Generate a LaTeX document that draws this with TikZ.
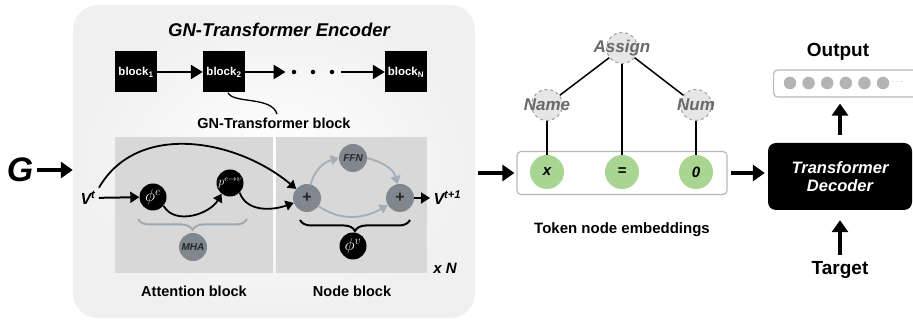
\documentclass[tikz,border=0pt]{standalone}
\usepackage{amsmath}
\usepackage{amssymb}
\usepackage{fontspec}
\setmainfont{Liberation Sans}
\usetikzlibrary{arrows.meta,decorations.pathreplacing}

\definecolor{grisnodo}{RGB}{128,135,143}
\definecolor{grisflecha}{RGB}{163,174,184}
\definecolor{grisllave}{RGB}{160,168,176}
\definecolor{grispanel}{RGB}{216,216,216}
\definecolor{grisarbol}{RGB}{230,230,230}
\definecolor{gristexto}{RGB}{105,105,105}
\definecolor{verdetok}{RGB}{168,213,145}
\definecolor{grispunto}{RGB}{180,180,180}

\newcommand{\tam}[2]{\fontsize{#1}{#2}\selectfont}

\tikzset{
  flecha/.style={line width=3.5pt,-{Triangle[length=12pt,width=16pt]}},
  flechab/.style={line width=2.5pt,-{Triangle[length=12pt,width=14pt]}},
  flechad/.style={line width=2pt,-{Triangle[length=9pt,width=11pt]}},
  curva/.style={line width=1.8pt,-{Triangle[length=8pt,width=10pt]}},
  curvagris/.style={curva,draw=grisflecha},
  encoder/.style={rounded corners=25pt,minimum width=402pt,minimum height=313pt,
    inner color=white,outer color=gray!12},
  bloque/.style={fill=black,minimum width=42pt,minimum height=41pt,inner sep=0pt,
    text=white,font=\tam{11.5}{11.5}\bfseries},
  punto/.style={circle,fill=black,minimum size=4.5pt,inner sep=0pt},
  negro/.style={circle,fill=black,minimum size=27pt,inner sep=0pt,text=white},
  gris/.style={circle,fill=grisnodo,minimum size=28pt,inner sep=0pt,
    font=\tam{10}{10}\bfseries\itshape,text=black!85},
  texto/.style={font=\tam{14.5}{14.5}\bfseries},
  llave/.style={decorate,decoration={brace,mirror,amplitude=11pt},line width=2pt},
  arbol/.style={circle,fill=grisarbol,draw=gray!75,dashed,line width=1pt,minimum size=31pt},
  arboltxt/.style={font=\tam{17}{17}\bfseries\itshape,text=gristexto},
  rama/.style={line width=1.5pt},
  token/.style={circle,fill=verdetok,minimum size=34pt,inner sep=0pt,
    font=\tam{15}{15}\bfseries\itshape},
  caja/.style={draw=gray!55,line width=1.2pt,rounded corners=4pt,fill=white},
  puntogris/.style={circle,fill=grispunto,minimum size=12.5pt,inner sep=0pt}
}

\begin{document}
\begin{tikzpicture}[x=1pt,y=1pt]
\useasboundingbox (0,0) rectangle (913,323);

%Caja del encoder
\node[encoder] (enc) at (274,161.5) {};
\node[font=\tam{18.5}{18.5}\bfseries\itshape] (titulo) at (279,293) {GN-Transformer Encoder};

%Cadena de bloques
\node[bloque] (b1) at (136,251) {block\textsubscript{1}};
\node[bloque] (b2) at (224,251) {block\textsubscript{2}};
\node[bloque] (bn) at (406,251) {block\textsubscript{N}};
\node[punto] (p1) at (294,251) {};
\node[punto] (p2) at (313,251) {};
\node[punto] (p3) at (332,251) {};
\draw[flechab] (b1) -- (b2);
\draw[flechab,shorten >=6pt] (b2) -- (p1);
\draw[flechab,shorten <=7pt] (p3) -- (bn);

%Etiqueta del bloque
\node[texto] (gnb) at (274,200) {GN-Transformer block};
\draw[line width=1.3pt] ([xshift=4pt]b2.south) .. controls (233,219) and (272,227) .. ([xshift=3pt]gnb.north);

%Paneles de atencion y de nodo
\fill[grispanel] (115,50) rectangle (273,186);
\fill[grispanel] (276,50) rectangle (427,186);
\node[texto] (atxt) at (194,32) {Attention block};
\node[texto] (ntxt) at (352,32) {Node block};
\node[font=\tam{15}{15}\bfseries\itshape] (xn) at (445,55) {x N};

%Entrada G
\node[font=\tam{34}{34}\bfseries\itshape] (g) at (20,153) {G};
\draw[flecha] (g.east) -- (g.east -| enc.west);

%Bloque de atencion
\node[font=\tam{16}{16}\bfseries\itshape] (vt) at (88,125) {V\textsuperscript{t}};
\node[negro] (phie) at (153,126) {\tam{17}{17}$\phi^e$};
\node[negro] (pev) at (230,140) {\tam{11.5}{11.5}$p^{e\to v}$};
\node[gris] (mha) at (193,76) {MHA};
\draw[flechad] (vt) -- (phie);
\draw[curva] (phie.-40) to[out=-60,in=-120] (pev.-128);
\draw[llave,draw=grisllave] (138,104) -- (247,104);

%Bloque de nodo
\node[gris,font=\tam{16}{16}\bfseries] (suma1) at (307,125) {+};
\node[gris] (ffn) at (353,165) {FFN};
\node[gris,font=\tam{16}{16}\bfseries] (suma2) at (400,125) {+};
\node[negro] (phiv) at (353,77) {\tam{17}{17}$\phi^v$};
\node[font=\tam{16}{16}\bfseries\itshape,anchor=west] (vt1) at (430,125) {V\textsuperscript{t+1}};
\draw[curvagris] (suma1.75) to[out=75,in=195] (ffn.west);
\draw[curvagris] (ffn.east) to[out=-15,in=105] (suma2.100);
\draw[curvagris] (suma1.-35) to[out=-35,in=-150] (suma2.-150);
\draw[flechad] (suma2) -- (vt1);
\draw[curva] (vt.north east) to[out=60,in=140] (suma1.140);
\draw[curva] (pev.-45) to[out=-70,in=200] (suma1.200);
\draw[llave] (300,103) -- (410,103);

%Arbol y embeddings de tokens
\node[caja,minimum width=210pt,minimum height=43pt] (tokbox) at (622,150) {};
\node[arbol] (assign) at (622,275) {};
\node[arbol] (name) at (547,218) {};
\node[arbol] (num) at (696,218) {};
\node[token] (tx) at (547,151) {x};
\node[token] (teq) at (622,151) {=};
\node[token] (tcero) at (696,151) {0};
\draw[rama] (assign) -- (name);
\draw[rama] (assign) -- (num);
\draw[rama] (assign) -- (teq);
\draw[rama] (name) -- (tx);
\draw[rama] (num) -- (tcero);
\node[arboltxt] at (assign) {Assign};
\node[arboltxt] at (name) {Name};
\node[arboltxt] at (num) {Num};
\node[font=\tam{15}{15}\bfseries] (toktxt) at (622,93) {Token node embeddings};
\draw[flecha,shorten <=3pt,shorten >=2pt] (enc.east |- tokbox.west) -- (tokbox.west);

%Decoder y salida
\node[fill=black,rounded corners=8pt,minimum width=144pt,minimum height=67pt,
  text=white,align=center,font=\tam{16.5}{18}\bfseries\itshape] (dec) at (840,146.5) {Transformer\\Decoder};
\draw[flecha,shorten <=3pt,shorten >=3pt] (tokbox.east) -- (tokbox.east -| dec.west);
\node[caja,minimum width=152pt,minimum height=27pt,anchor=west] (outbox) at (773,239.5) {};
\foreach \i in {0,...,5}
  \node[puntogris] (o\i) at (790+18.6*\i,240) {};
\node[text=grispunto,font=\tam{10}{10}] (etc) at (898,241) {$\cdots$};
\node[font=\tam{19}{19}\bfseries] (out) at (838,271) {Output};
\draw[flecha,shorten <=8pt,shorten >=6pt] (dec.north) -- (dec.north |- outbox.south);
\node[font=\tam{19}{19}\bfseries] (target) at (840,53) {Target};
\draw[flecha,shorten <=3pt,shorten >=10pt] (target.north) -- (dec.south);
\end{tikzpicture}
\end{document}
